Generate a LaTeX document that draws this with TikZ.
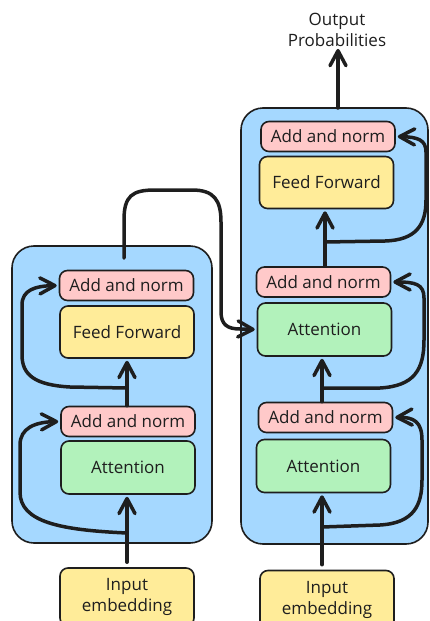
\documentclass[tikz,border=0pt]{standalone}
\usepackage{fontspec}
\setmainfont{Open Sans}
\usetikzlibrary{arrows.meta}
\definecolor{cblue}{HTML}{A5D8FF}
\definecolor{cpink}{HTML}{FFC9C9}
\definecolor{cyellow}{HTML}{FFEC99}
\definecolor{cgreen}{HTML}{B2F2BB}
\definecolor{ink}{HTML}{1E1E1E}
\begin{document}
\begin{tikzpicture}[x=1pt,y=-1pt,
  txt/.style={text=ink, font=\fontsize{17}{21}\selectfont, align=center, inner sep=0pt},
  box/.style={txt, draw=ink, line width=1.6pt, rounded corners=8pt},
  an/.style={box, fill=cpink, minimum width=134pt, minimum height=30pt},
  ff/.style={box, fill=cyellow, minimum width=134pt, minimum height=52pt},
  att/.style={box, fill=cgreen, minimum width=134pt, minimum height=53pt},
  emb/.style={box, fill=cyellow, minimum width=134pt, minimum height=58pt},
  cont/.style={draw=ink, line width=1.6pt, fill=cblue, rounded corners=22pt, inner sep=0pt},
  flow/.style={draw=ink, line width=3.5pt, line cap=round, line join=round},
  arr/.style={flow, shorten >=2pt, -{Straight Barb[length=15pt,width=16pt,round]}}
]
\useasboundingbox (0,0) rectangle (430,621);

% containers
\node[cont, minimum width=200pt, minimum height=297pt] (Lbox) at (112,394.5) {};
\node[cont, minimum width=187pt, minimum height=436pt] (Rbox) at (334.5,326) {};

% left block
\node[an]  (Lan1) at (126.5,285.5) {Add and norm};
\node[ff]  (Lff)  at (127,332) {Feed Forward};
\node[an]  (Lan2) at (128,421.5) {Add and norm};
\node[att] (Latt) at (128,467.5) {Attention};
\node[emb] (Lin)  at (127,597) {Input\\embedding};

% right block
\node[an]  (Ran1) at (328,136.5) {Add and norm};
\node[ff]  (Rff)  at (326.5,182.5) {Feed Forward};
\node[an]  (Ran2) at (323.5,282) {Add and norm};
\node[att] (Ratt1) at (324.5,329.5) {Attention};
\node[an]  (Ran3) at (325.5,417.5) {Add and norm};
\node[att] (Ratt2) at (323.5,466) {Attention};
\node[emb] (Rin)  at (327,599.5) {Input\\embedding};

\node[txt] (Out) at (337,30) {Output\\Probabilities};

% branch coordinates
\coordinate (lb1) at (127,533);
\coordinate (lb2) at (127,388);
\coordinate (lc0) at (124,258);
\coordinate (rb1) at (322,527);
\coordinate (rb2) at (322,388);
\coordinate (rb3) at (325,242);
\coordinate (ro) at (338,108);

% left flows
\draw[arr, shorten <=5pt] (Lin.north) -- (Lin.north |- Latt.south);
\draw[arr] (lb1) .. controls (60,530) and (20,522) .. (20,492) -- (20,445)
  .. controls (20,428) and (35,422) .. (Lan2.west);
\draw[arr] (Lan2.north -| lb2) -- (lb2 |- Lff.south);
\draw[arr] (lb2) -- (70,387) .. controls (35,385) and (22,375) .. (22,355) -- (22,305)
  .. controls (22,290) and (35,286) .. (Lan1.west);
\draw[arr] (lc0) -- (124,220) .. controls (124,196) and (132,190) .. (155,190) -- (192,190)
  .. controls (214,190) and (221,200) .. (221,222) -- (221,312)
  .. controls (221,325) and (228,329) .. (240,329) -- (Ratt1.west);

% right flows
\draw[arr, shorten <=5pt] (Rin.north -| rb1) -- (rb1 |- Ratt2.south);
\draw[arr] (rb1) -- (380,525) .. controls (414,523) and (422,505) .. (422,480) -- (422,440)
  .. controls (422,422) and (414,417) .. (Ran3.east);
\draw[arr] (Ran3.north -| rb2) -- (rb2 |- Ratt1.south);
\draw[arr] (rb2) -- (380,388) .. controls (414,386) and (424,370) .. (424,340) -- (424,298)
  .. controls (424,284) and (415,282) .. (Ran2.east);
\draw[arr] (Ran2.north -| rb3) -- (rb3 |- Rff.south);
\draw[arr] (rb3) -- (385,241) .. controls (416,240) and (426,225) .. (426,200) -- (426,152)
  .. controls (426,140) and (418,137) .. (Ran1.east);
\draw[arr] (ro) -- (ro |- Out.south);
\end{tikzpicture}
\end{document}
